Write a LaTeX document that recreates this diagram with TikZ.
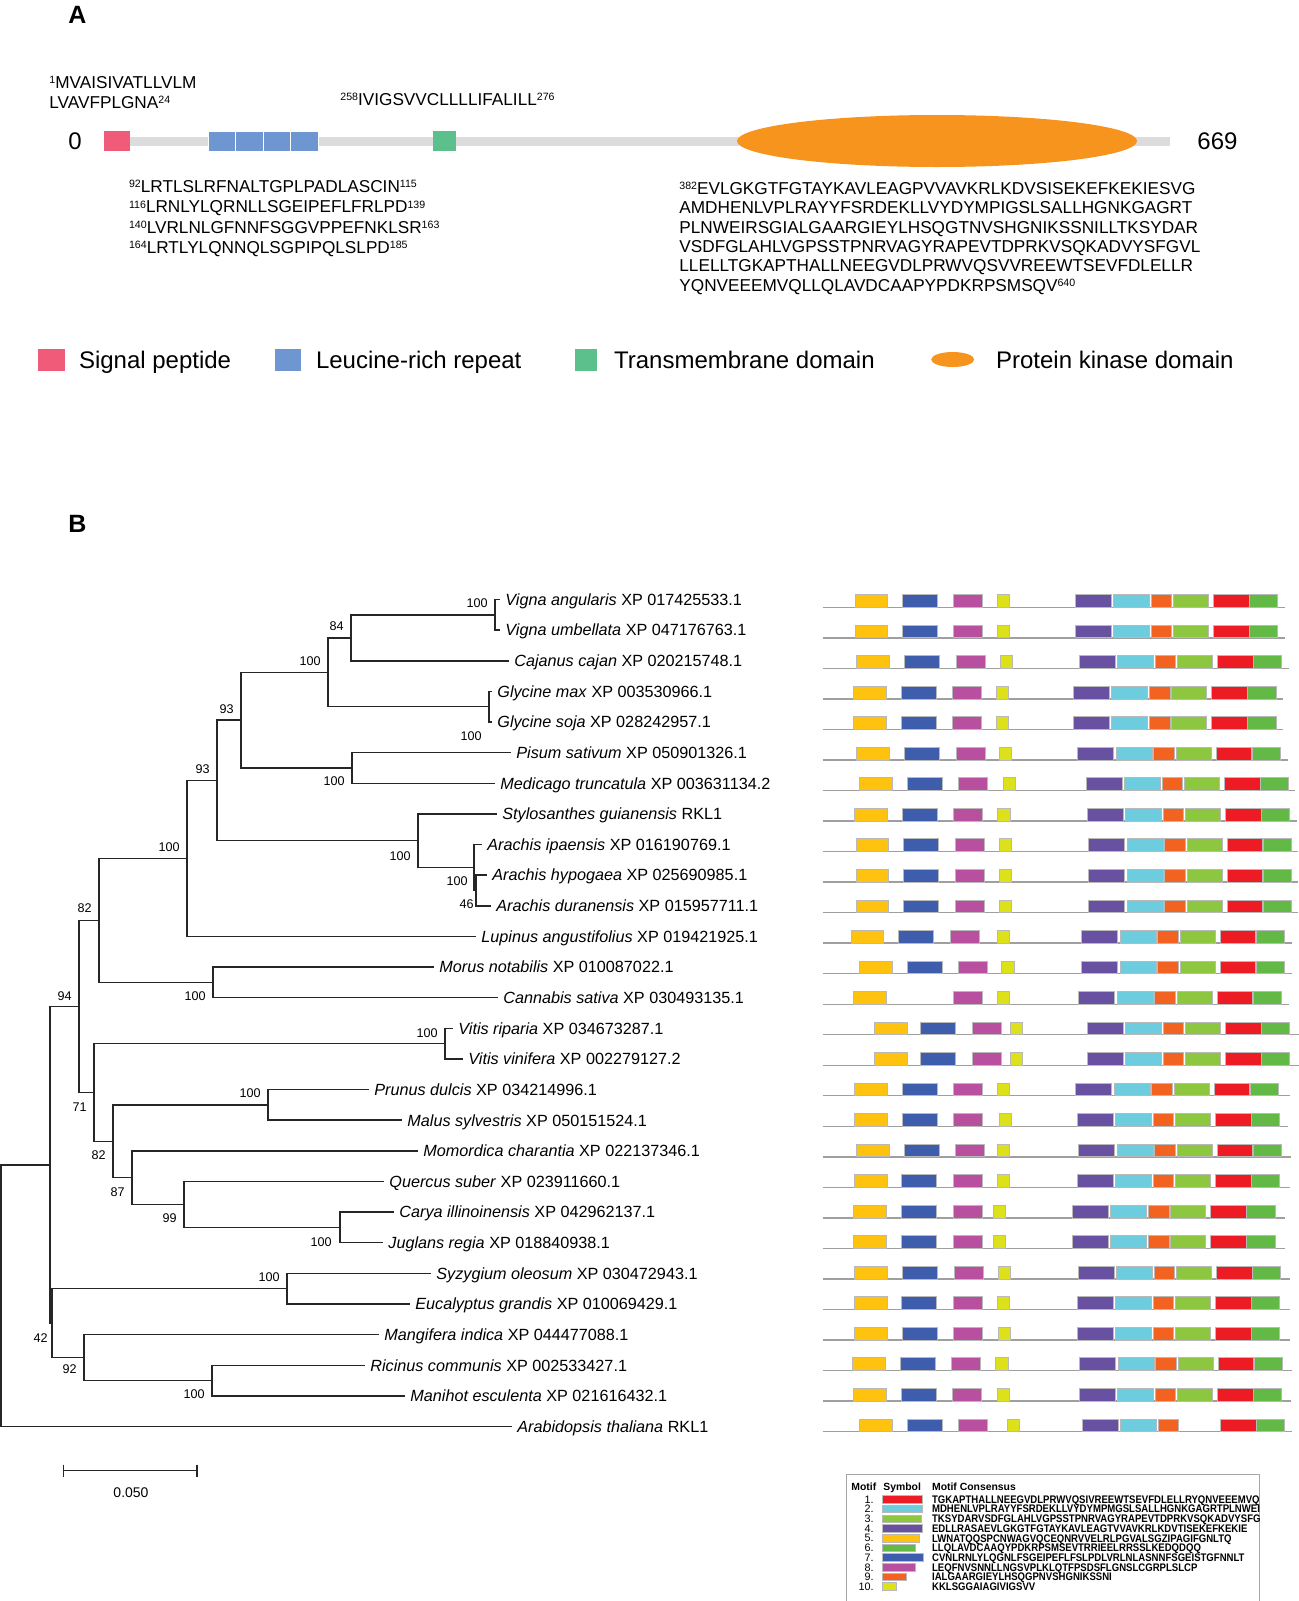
\documentclass[tikz,border=0pt]{standalone}
\usepackage{fontspec}
\setmainfont{Liberation Sans}
\newfontfamily\motiffont[FakeStretch=0.87]{Liberation Sans}
\usetikzlibrary{calc}

\definecolor{sigpep}{HTML}{EF5B78}
\definecolor{lrr}{HTML}{6E96D0}
\definecolor{tmd}{HTML}{5CC08D}
\definecolor{pkd}{HTML}{F7941D}
\definecolor{spine}{HTML}{DCDCDE}
\definecolor{mone}{HTML}{ED1C24}
\definecolor{mtwo}{HTML}{6DCDDF}
\definecolor{mthree}{HTML}{8DC63F}
\definecolor{mfour}{HTML}{6951A1}
\definecolor{mfive}{HTML}{FFC20E}
\definecolor{msix}{HTML}{63B946}
\definecolor{mseven}{HTML}{3E5EAD}
\definecolor{meight}{HTML}{B9509F}
\definecolor{mnine}{HTML}{F26322}
\definecolor{mten}{HTML}{DDE11C}

% small raised residue numbers
\newcommand{\seqsup}[1]{\raisebox{0.28em}{\fontsize{5.3}{6}\selectfont #1}}

\begin{document}
\begin{tikzpicture}[x=0.5pt,y=-0.5pt,
  declare function={ly(\k)=599.5+30.63*\k;}]
\useasboundingbox (0,0) rectangle (1299,1601);

% These set how the texts, branches and motif boxes look.
\tikzstyle{panel}=[font=\fontsize{12.5}{15}\selectfont\bfseries,inner sep=0pt,anchor=base]
\tikzstyle{seq}=[font=\fontsize{8.6}{10}\selectfont,inner sep=0pt,anchor=base west]
\tikzstyle{legtext}=[font=\fontsize{12}{14}\selectfont,inner sep=0pt,anchor=base west]
\tikzstyle{branch}=[draw=black!85,line width=0.75pt]
\tikzstyle{leaf}=[font=\fontsize{8.1}{10}\selectfont,inner sep=0pt,anchor=base west]
\tikzstyle{boot}=[font=\fontsize{6.3}{7}\selectfont,inner sep=0pt,anchor=south east]
\tikzstyle{motif}=[draw=gray!55,line width=0.4pt]
\tikzstyle{rowline}=[draw=gray!75,line width=0.7pt]
\tikzstyle{thead}=[font=\fontsize{5.2}{6}\selectfont\bfseries,inner sep=0pt,anchor=base west]
\tikzstyle{tnum}=[font=\fontsize{5.4}{6}\selectfont,inner sep=0pt,anchor=base east]
\tikzstyle{tseq}=[font=\motiffont\fontsize{5.5}{6}\selectfont\bfseries,inner sep=0pt,anchor=base west]

% This draws panel A: the protein with its domains.
\node[panel] (labA) at (77.5,23.5) {A};
\fill[spine] (104,136.7) rectangle (1170,145.7);
\fill[sigpep] (104,131) rectangle (130,151);
\foreach \i in {0,...,3}
  \draw[fill=lrr,draw=white,line width=0.5pt] ({208+27.5*\i},131) rectangle ++(27.5,20.5);
\fill[tmd] (433,131) rectangle (455.5,151);
\fill[pkd] (937,141) ellipse [x radius=100pt,y radius=13pt];
\node[legtext,anchor=base] (start) at (75,149.5) {0};
\node[legtext] (stop) at (1197,149.5) {669};

% This writes the sequences of the domains.
\node[seq] (sp1) at (49,88.3) {\seqsup{1}MVAISIVATLLVLM};
\node[seq] (sp2) at (49,108.3) {LVAVFPLGNA\seqsup{24}};
\node[seq] (tm) at (340,105) {\seqsup{258}IVIGSVVCLLLLIFALILL\seqsup{276}};
\foreach \t [count=\i from 0] in {{\seqsup{92}LRTLSLRFNALTGPLPADLASCIN\seqsup{115}},
  {\seqsup{116}LRNLYLQRNLLSGEIPEFLFRLPD\seqsup{139}},
  {\seqsup{140}LVRLNLGFNNFSGGVPPEFNKLSR\seqsup{163}},
  {\seqsup{164}LRTLYLQNNQLSGPIPQLSLPD\seqsup{185}}}
  \node[seq] (lrr\i) at (128.7,{192.7+20.2*\i}) {\t};
\foreach \t [count=\i from 0] in {{\seqsup{382}EVLGKGTFGTAYKAVLEAGPVVAVKRLKDVSISEKEFKEKIESVG},
  {AMDHENLVPLRAYYFSRDEKLLVYDYMPIGSLSALLHGNKGAGRT},
  {PLNWEIRSGIALGAARGIEYLHSQGTNVSHGNIKSSNILLTKSYDAR},
  {VSDFGLAHLVGPSSTPNRVAGYRAPEVTDPRKVSQKADVYSFGVL},
  {LLELLTGKAPTHALLNEEGVDLPRWVQSVVREEWTSEVFDLELLR},
  {YQNVEEEMVQLLQLAVDCAAPYPDKRPSMSQV\seqsup{640}}}
  \node[seq] (kin\i) at (679,{194.3+19.35*\i}) {\t};

% This draws the domain legend.
\fill[sigpep] (38,349) rectangle (65,371);
\node[legtext] (legsp) at (78.6,368) {Signal peptide};
\fill[lrr] (274.7,349) rectangle (301,371);
\node[legtext] (leglrr) at (315.6,368) {Leucine-rich repeat};
\fill[tmd] (575,349) rectangle (597.4,371);
\node[legtext] (legtm) at (613.7,368) {Transmembrane domain};
\fill[pkd] (952.7,359.5) ellipse [x radius=10.75pt,y radius=3.75pt];
\node[legtext] (legpk) at (995.7,368) {Protein kinase domain};

% This draws panel B: the tree.
\node[panel] (labB) at (77.5,532) {B};
\foreach \x [count=\k from 0] in {500,500,509,492,492,511,495,497,482,487,491,476,434,498,
  453,463,369,402,418,384,394,383,431,410,379,365,405,512}
  \coordinate (t\k) at (\x,{ly(\k)});
\foreach \n/\x/\k in {nVig/495/0.5, n84/351/1.25, nGly/489/3.5, n100a/328/2.375,
  nPM/352/5.5, n93a/241/3.9375, nAr2/476/9.5, nAr1/474/8.75, nSA/418/7.875,
  n93b/217/5.90625, n100b/187/8.453125, nMC/213/12.5, n82a/99/10.4765625,
  nVit/445/14.5, nPrM/268/16.5, nCJ/340/20.5, n99/184/19.75, n87/132/18.875,
  n82b/113/17.6875, n71/94/16.09375, n94/79/13.28515625, nSE/287/22.5,
  nRM/212/25.5, n92/84/24.75, n42/52/23.625, nX/50/18.455078, root/1/22.727539}
  \coordinate (\n) at (\x,{ly(\k)});

% This draws the branches, parent to child.
\foreach \p/\c in {nVig/t0, nVig/t1, n84/nVig, n84/t2, nGly/t3, nGly/t4,
  n100a/n84, n100a/nGly, nPM/t5, nPM/t6, n93a/n100a, n93a/nPM,
  nAr2/t9, nAr2/t10, nAr1/t8, nAr1/nAr2, nSA/t7, nSA/nAr1,
  n93b/n93a, n93b/nSA, n100b/n93b, n100b/t11, nMC/t12, nMC/t13,
  n82a/n100b, n82a/nMC, nVit/t14, nVit/t15, nPrM/t16, nPrM/t17,
  nCJ/t20, nCJ/t21, n99/t19, n99/nCJ, n87/t18, n87/n99,
  n82b/nPrM, n82b/n87, n71/nVit, n71/n82b, n94/n82a, n94/n71,
  nSE/t22, nSE/t23, nRM/t25, nRM/t26, n92/t24, n92/nRM,
  n42/nSE, n42/n92, nX/n94, nX/n42, root/nX, root/t27}
  \draw[branch] (\p) |- (\c);

% This writes the species names.
\foreach \txt [count=\k from 0] in {\textit{Vigna angularis} XP 017425533.1,
  \textit{Vigna umbellata} XP 047176763.1, \textit{Cajanus cajan} XP 020215748.1,
  \textit{Glycine max} XP 003530966.1, \textit{Glycine soja} XP 028242957.1,
  \textit{Pisum sativum} XP 050901326.1, \textit{Medicago truncatula} XP 003631134.2,
  \textit{Stylosanthes guianensis} RKL1, \textit{Arachis ipaensis} XP 016190769.1,
  \textit{Arachis hypogaea} XP 025690985.1, \textit{Arachis duranensis} XP 015957711.1,
  \textit{Lupinus angustifolius} XP 019421925.1, \textit{Morus notabilis} XP 010087022.1,
  \textit{Cannabis sativa} XP 030493135.1, \textit{Vitis riparia} XP 034673287.1,
  \textit{Vitis vinifera} XP 002279127.2, \textit{Prunus dulcis} XP 034214996.1,
  \textit{Malus sylvestris} XP 050151524.1, \textit{Momordica charantia} XP 022137346.1,
  \textit{Quercus suber} XP 023911660.1, \textit{Carya illinoinensis} XP 042962137.1,
  \textit{Juglans regia} XP 018840938.1, \textit{Syzygium oleosum} XP 030472943.1,
  \textit{Eucalyptus grandis} XP 010069429.1, \textit{Mangifera indica} XP 044477088.1,
  \textit{Ricinus communis} XP 002533427.1, \textit{Manihot esculenta} XP 021616432.1,
  \textit{Arabidopsis thaliana} RKL1}
  \node[leaf] (l\k) at ($(t\k)+(5,5.8)$) {\txt};

% This writes the bootstrap values.
\foreach \n/\dx/\dy/\v in {nVig/7/-6.8/100, n84/7/-6.5/84, nGly/7/34.7/100,
  n100a/7/-5.8/100, nPM/7/18.5/100, n93a/7/-6.5/93, nAr1/6/18.5/100, nAr2/2/19/46,
  nSA/7/19.8/100, n93b/7/-5.9/93, n100b/7/-6.3/100, nMC/7/19/100, n82a/7/-6.9/82,
  n94/7/-5.9/94, nVit/7/-6.1/100, n71/7/19/71, nPrM/7/-6.4/100, n82b/7/19.2/82,
  n87/7/18.9/87, n99/7/18.1/99, nCJ/8/19.1/100, nSE/7/-6.7/100, n42/4/19.4/42,
  n92/7/16.9/92, nRM/7/18.9/100}
  \node[boot] (b\n) at ($(\n)+(-\dx,\dy)$) {\v};

% This draws the scale bar.
\coordinate (sb0) at (63.5,1470.5);
\coordinate (sb1) at (197,1470.5);
\draw[branch] (sb0) -- (sb1);
\draw[branch] ($(sb0)+(0,-6)$) -- ($(sb0)+(0,6)$);
\draw[branch] ($(sb1)+(0,-6)$) -- ($(sb1)+(0,6)$);
\node[font=\fontsize{7}{8}\selectfont,inner sep=0pt,anchor=base] (sblab) at (131,1497.5) {0.050};

% This draws the motifs of each sequence.
\foreach \k/\ya/\yb/\yc/\yd/\pa/\e/\lg in {0/855.0/902.3/953.7/997.0/1075.0/1285/1,
  1/855.0/902.3/953.7/997.0/1075.0/1285/1, 2/856.7/904.3/956.0/1000.3/1079.0/1289.3/1,
  3/853.3/901.0/952.3/996.0/1073.3/1283.3/1, 4/853.3/901.0/952.3/996.0/1073.3/1283.3/1,
  5/856.7/904.3/956.0/999.3/1077.7/1287.7/1, 6/859.3/907.0/958.7/1003.3/1086.0/1295/1,
  7/854.7/902.3/953.7/997.7/1087.0/1296.7/1, 8/856.0/903.7/955.0/999.3/1088.7/1298.3/1,
  9/856.0/903.7/955.0/999.3/1088.7/1298.3/1, 10/856.0/903.7/955.0/999.3/1088.7/1298.3/1,
  11/851.0/898.3/950.7/997.0/1081.7/1291.7/1, 12/859.3/907.0/958.7/1001.7/1081.7/1291.7/1,
  13/853.3/0/953.3/997.3/1078.7/1289.3/1, 14/874.3/920.7/972.0/1010.3/1087.0/1299/1,
  15/874.3/920.7/972.0/1010.3/1087.0/1299/1, 16/854.3/902.0/953.7/997.0/1075.7/1290/1,
  17/854.3/902.0/953.7/999.0/1077.0/1287.7/1, 18/856.7/904.3/955.3/997.3/1078.7/1291/1,
  19/854.3/901.0/953.7/997.3/1077.0/1290/1, 20/853.3/901.0/953.3/993.0/1072.3/1285/1,
  21/853.3/901.0/953.3/993.0/1072.3/1285/1, 22/854.3/902.0/954.3/998.3/1078.0/1290/1,
  23/854.3/901.0/953.7/997.3/1077.0/1290/1, 24/854.3/902.0/953.7/998.3/1077.0/1290/1,
  25/852.3/900.0/951.7/995.7/1079.7/1291.7/1, 26/853.3/901.0/952.3/997.3/1079.0/1291/1,
  27/859.3/907.0/958.0/1007.3/1082.0/1291.7/0}{
  \pgfmathsetmacro\rb{607.3+30.53*\k}
  \pgfmathsetmacro\rt{\rb-12.7}
  \draw[rowline] (822.7,\rb) -- (\e,\rb);
  \draw[motif,fill=mfive] (\ya,\rt) rectangle ++(32.7,12.7);
  \ifdim\yb pt>1pt \draw[motif,fill=mseven] (\yb,\rt) rectangle ++(35,12.7); \fi
  \draw[motif,fill=meight] (\yc,\rt) rectangle ++(29,12.7);
  \draw[motif,fill=mten] (\yd,\rt) rectangle ++(12.3,12.7);
  \draw[motif,fill=mfour] (\pa,\rt) rectangle ++(36,12.7);
  \draw[motif,fill=mtwo] ({\pa+38.3},\rt) rectangle ++(36,12.7);
  \draw[motif,fill=mnine] ({\pa+76},\rt) rectangle ++(20.7,12.7);
  \ifnum\lg=1 \draw[motif,fill=mthree] ({\pa+98.3},\rt) rectangle ++(35,12.7); \fi
  \draw[motif,fill=mone] ({\pa+138.3},\rt) rectangle ++(35.7,12.7);
  \draw[motif,fill=msix] ({\pa+174.3},\rt) rectangle ++(28.3,12.7);
}

% This draws the motif table.
\draw[draw=gray!70,line width=0.5pt] (846,1602) |- (1259,1474.5) -- (1259,1602);
\node[thead] (hmotif) at (851,1490) {Motif};
\node[thead] (hsym) at (883,1490) {Symbol};
\node[thead] (hcons) at (931.7,1490) {Motif Consensus};
\foreach \w/\c/\s [count=\i] in {922.7/mone/TGKAPTHALLNEEGVDLPRWVQSIVREEWTSEVFDLELLRYQNVEEEMVQ,
  922.7/mtwo/MDHENLVPLRAYYFSRDEKLLVYDYMPMGSLSALLHGNKGAGRTPLNWEI,
  921.7/mthree/TKSYDARVSDFGLAHLVGPSSTPNRVAGYRAPEVTDPRKVSQKADVYSFG,
  922.7/mfour/EDLLRASAEVLGKGTFGTAYKAVLEAGTVVAVKRLKDVTISEKEFKEKIE,
  919.3/mfive/LWNATQQSPCNWAGVQCEQNRVVELRLPGVALSGZIPAGIFGNLTQ,
  915/msix/LLQLAVDCAAQYPDKRPSMSEVTRRIEELRRSSLKEDQDQQ,
  923.3/mseven/CVNLRNLYLQGNLFSGEIPEFLFSLPDLVRLNLASNNFSGEISTGFNNLT,
  915.7/meight/LEQFNVSNNLLNGSVPLKLQTFPSDSFLGNSLCGRPLSLCP,
  906/mnine/IALGAARGIEYLHSQGPNVSHGNIKSSNI,
  896.7/mten/KKLSGGAIAGIVIGSVV}{
  \pgfmathsetmacro\ty{1499.3+9.7*(\i-1)}
  \node[tnum] (tn\i) at (874,{\ty+3.8}) {\i.};
  \draw[motif,fill=\c] (882.7,{\ty-3.8}) rectangle (\w,{\ty+3.8});
  \node[tseq] (ts\i) at (931.7,{\ty+3.9}) {\s};
}
\end{tikzpicture}
\end{document}
